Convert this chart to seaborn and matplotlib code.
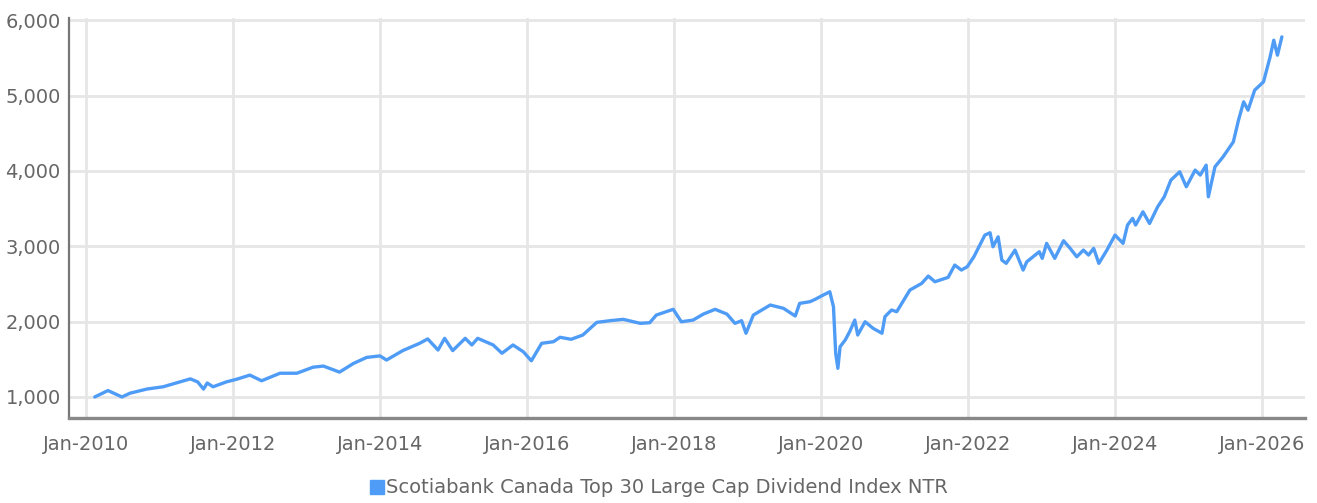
import pandas as pd
import matplotlib
matplotlib.use("Agg")
import matplotlib.pyplot as plt
import matplotlib.dates as mdates
from matplotlib.lines import Line2D
import seaborn as sns

# approximate decimal-year positions and index levels
years = [2010.12, 2010.30, 2010.49, 2010.60, 2010.83, 2011.05, 2011.28, 2011.42,
         2011.52, 2011.60, 2011.65, 2011.73, 2011.91, 2012.05, 2012.23, 2012.39,
         2012.64, 2012.87, 2013.09, 2013.23, 2013.45, 2013.64, 2013.82, 2014.00,
         2014.09, 2014.31, 2014.54, 2014.65, 2014.79, 2014.88, 2014.99, 2015.16,
         2015.25, 2015.33, 2015.54, 2015.66, 2015.81, 2015.95, 2016.06, 2016.20,
         2016.36, 2016.45, 2016.60, 2016.76, 2016.95, 2017.13, 2017.31, 2017.54,
         2017.67, 2017.76, 2017.99, 2018.10, 2018.26, 2018.40, 2018.56, 2018.72,
         2018.83, 2018.92, 2018.98, 2019.08, 2019.31, 2019.49, 2019.65, 2019.71,
         2019.85, 2019.92, 2020.03, 2020.12, 2020.17, 2020.20, 2020.23, 2020.26,
         2020.33, 2020.39, 2020.46, 2020.50, 2020.60, 2020.71, 2020.83, 2020.87,
         2020.96, 2021.03, 2021.10, 2021.21, 2021.37, 2021.46, 2021.55, 2021.73,
         2021.82, 2021.91, 2021.99, 2022.08, 2022.23, 2022.30, 2022.34, 2022.41,
         2022.46, 2022.52, 2022.64, 2022.75, 2022.80, 2022.97, 2023.01, 2023.07,
         2023.18, 2023.30, 2023.39, 2023.48, 2023.57, 2023.64, 2023.71, 2023.78,
         2023.89, 2024.00, 2024.11, 2024.17, 2024.24, 2024.28, 2024.38, 2024.47,
         2024.58, 2024.67, 2024.76, 2024.88, 2024.97, 2025.09, 2025.16, 2025.24,
         2025.27, 2025.36, 2025.47, 2025.61, 2025.68, 2025.75, 2025.81, 2025.90,
         2026.02, 2026.11, 2026.16, 2026.21, 2026.27]
values = [1000, 1085, 1000, 1050, 1105, 1135, 1200, 1240,
          1200, 1105, 1185, 1135, 1200, 1235, 1290, 1215,
          1315, 1315, 1395, 1410, 1330, 1445, 1525, 1545,
          1490, 1615, 1712, 1770, 1623, 1778, 1615, 1778,
          1690, 1778, 1690, 1580, 1690, 1600, 1480, 1712,
          1733, 1792, 1765, 1822, 1990, 2012, 2030, 1977,
          1985, 2087, 2163, 1998, 2020, 2100, 2163, 2100,
          1977, 2012, 1845, 2087, 2220, 2176, 2074, 2242,
          2264, 2295, 2352, 2396, 2197, 1580, 1380, 1667,
          1756, 1866, 2020, 1822, 1998, 1910, 1845, 2065,
          2154, 2131, 2242, 2419, 2507, 2604, 2529, 2587,
          2750, 2684, 2728, 2860, 3148, 3179, 2993, 3125,
          2817, 2773, 2949, 2684, 2794, 2927, 2839, 3038,
          2839, 3073, 2972, 2860, 2949, 2883, 2972, 2773,
          2949, 3148, 3038, 3281, 3370, 3281, 3457, 3302,
          3523, 3656, 3877, 3988, 3789, 4010, 3944, 4076,
          3656, 4054, 4186, 4385, 4673, 4916, 4806, 5071,
          5181, 5512, 5734, 5535, 5778]
series_name = "Scotiabank Canada Top 30 Large Cap Dividend Index NTR"

line_color = "#4f9cf7"
text_color = "#666666"

start = pd.Timestamp("2010-01-01")


def to_date(y):
    return start + pd.Timedelta(days=(y - 2010) * 365.25)


df = pd.DataFrame({"date": [to_date(y) for y in years], "value": values})

sns.set_style("white")
plt.rcParams["font.family"] = ["DejaVu Sans"]

fig = plt.figure(figsize=(13.17, 5.03), dpi=100)
ax = fig.add_axes([0.0524, 0.169, 0.9385, 0.795])

sns.lineplot(data=df, x="date", y="value", ax=ax, color=line_color, linewidth=2.4)

ax.set_xlim(to_date(2009.77), to_date(2026.585))
ax.set_ylim(721, 6027)
ax.set_yticks([1000, 2000, 3000, 4000, 5000, 6000])
ax.yaxis.set_major_formatter(matplotlib.ticker.FuncFormatter(lambda v, p: f"{v:,.0f}"))
ax.xaxis.set_major_locator(mdates.YearLocator(base=2, month=1, day=1))
ax.xaxis.set_major_formatter(mdates.DateFormatter("%b-%Y"))

ax.grid(True, color="#e6e6e6", linewidth=2.0)
ax.set_axisbelow(True)
ax.set_xlabel("")
ax.set_ylabel("")
ax.tick_params(axis="both", length=0, labelsize=14, labelcolor=text_color)
ax.tick_params(axis="x", pad=12)
ax.tick_params(axis="y", pad=6)

for side in ["top", "right"]:
    ax.spines[side].set_visible(False)
ax.spines["left"].set_color("#777777")
ax.spines["left"].set_linewidth(1.6)
ax.spines["bottom"].set_color("#888888")
ax.spines["bottom"].set_linewidth(2.4)

handle = Line2D([], [], marker="s", linestyle="", color=line_color, markersize=10)
fig.legend([handle], [series_name], loc="center", bbox_to_anchor=(0.5, 0.03),
           frameon=False, fontsize=14, handletextpad=0.1, handlelength=0.8,
           labelcolor=text_color)

fig.savefig("out.png", dpi=100)
